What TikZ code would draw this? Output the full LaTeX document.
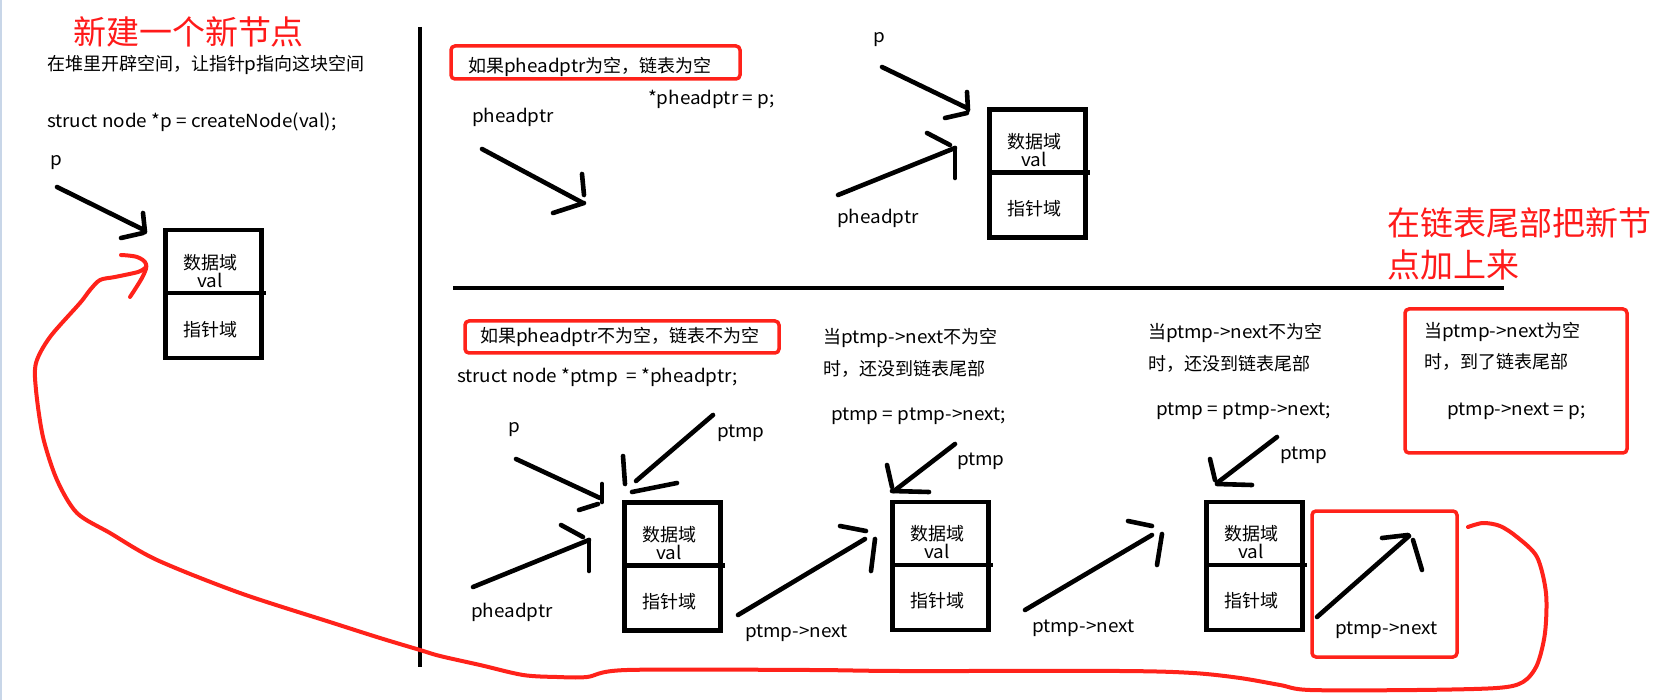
\documentclass[tikz,border=0pt]{standalone}
\usepackage{fontspec}
\setmainfont{Noto Sans CJK SC}[FakeStretch=1.05]
\newfontfamily\cjk{Noto Sans CJK SC}
\usetikzlibrary{calc}
\definecolor{inkred}{RGB}{255,34,26}
\definecolor{titlered}{RGB}{255,26,26}
\definecolor{edgeblue}{RGB}{200,214,232}
\tikzset{
  txt/.style={anchor=base west, inner sep=0, outer sep=0, font=\fontsize{18}{20}\selectfont},
  bigred/.style={anchor=base west, inner sep=0, outer sep=0, text=titlered, font=\cjk\fontsize{33}{36}\selectfont},
  topcell/.style={draw, line width=4.5pt, minimum width=96pt, minimum height=63pt, inner sep=0, outer sep=0, anchor=north west},
  botcell/.style={draw, line width=4.5pt, minimum width=96pt, minimum height=65pt, inner sep=0, outer sep=0, anchor=north west},
  celltext/.style={anchor=base, inner sep=0, outer sep=0, font=\fontsize{18}{20}\selectfont},
  hand/.style={line width=4.6pt, line cap=round, line join=round},
  redframe/.style={draw=inkred, line width=3.5pt, rounded corners=4pt},
  redcurve/.style={draw=inkred, line width=4pt, line cap=round, line join=round},
}
\newcommand\drawcellbox[2]{%
  \node[topcell] (#1t) at (#2) {};
  \node[botcell] (#1b) at (#1t.south west) {};
  \draw[line width=4.5pt] (#1t.south east) -- ++(5,0);
  \node[celltext] (#1d) at ($(#1t.north)+(-3,39)$) {\cjk 数据域};
  \node[celltext] (#1v) at ($(#1t.north)+(-3,57)$) {val};
  \node[celltext] (#1p) at ($(#1t.north)+(-3,106)$) {\cjk 指针域};
}
\newcommand\handarrow[6]{%
  \draw[hand] (#1) -- (#2);
  \draw[hand] (#3) -- (#4);
  \draw[hand] (#5) -- (#6);
}
\begin{document}
\begin{tikzpicture}[x=1pt,y=-1pt]
\useasboundingbox (0,0) rectangle (1658,700);
\fill[white] (0,0) rectangle (1658,700);
\draw[edgeblue, line width=1.5pt] (0.75,0) -- (0.75,700);

% separators
\draw[line width=3.5pt] (420,27) -- (420,667);
\draw[line width=4.5pt] (453,288) -- (1504,288);

% ---------- left section ----------
\node[bigred] (title1) at (73,45) {新建一个新节点};
\node[txt] (heap) at (47,71) {{\cjk 在堆里开辟空间，让指针}p{\cjk 指向这块空间}};
\node[txt] (create) at (47,128) {struct node *p = createNode(val);};
\node[txt] (pA) at (50,166) {p};
\drawcellbox{b1}{165.25,230.25}
\handarrow{57,187}{144,230}{143,213}{145,232}{121,238}{143,233}

% ---------- top right: empty list ----------
\draw[redframe] (451,46) rectangle (740,79);
\node[txt] (emptycond) at (468,73) {{\cjk 如果}pheadptr{\cjk 为空，链表为空}};
\node[txt] (assign) at (648,105) {*pheadptr = p;};
\node[txt] (hpA) at (472,123) {pheadptr};
\handarrow{482,149}{583,203}{582,174}{584,195}{553,213}{584,203}
\node[txt] (pB) at (873,43) {p};
\node[txt] (hpB) at (837,224) {pheadptr};
\drawcellbox{b2}{989.25,109.5}
\handarrow{882,67}{967,108}{967,92}{968,110}{945,118}{967,113}
\handarrow{838,195}{955,148}{955,148}{955,178}{927,133}{950,145}

% ---------- bottom: non-empty list ----------
\draw[redframe] (465,321) rectangle (779,353);
\node[txt] (fullcond) at (480,343) {{\cjk 如果}pheadptr{\cjk 不为空，链表不为空}};
\node[txt] (ptmpdecl) at (457,383) {struct node *ptmp~~= *pheadptr;};
\node[txt] (pC) at (508,433) {p};
\node[txt] (ptmpA) at (717,438) {ptmp};
\node[txt] (hpC) at (471,617) {pheadptr};
\drawcellbox{b3}{624.25,502.25}
\handarrow{516,459}{600,498}{602,484}{602,502}{579,510}{598,504}
\handarrow{713,415}{636,481}{623,456}{625,484}{632,492}{677,483}
\handarrow{473,587}{589,540}{589,540}{589,571}{561,525}{583,537}

\node[txt] (nextA) at (745,637) {ptmp->next};
\handarrow{738,615}{865,539}{840,526}{866,531}{875,539}{871,571}

\node[txt] (condA1) at (823,344) {{\cjk 当}ptmp->next{\cjk 不为空}};
\node[txt] (condA2) at (823,376) {{\cjk 时，还没到链表尾部}};
\node[txt] (stepA) at (831,421) {ptmp = ptmp->next;};
\node[txt] (ptmpB) at (957,466) {ptmp};
\drawcellbox{b4}{892.25,501.75}
\handarrow{955,444}{894,491}{887,465}{892,487}{892,491}{929,492}

\node[txt] (nextB) at (1032,632) {ptmp->next};
\handarrow{1025,610}{1152,535}{1128,521}{1152,526}{1162,534}{1157,565}

\node[txt] (condB1) at (1148,339) {{\cjk 当}ptmp->next{\cjk 不为空}};
\node[txt] (condB2) at (1148,371) {{\cjk 时，还没到链表尾部}};
\node[txt] (stepB) at (1156,416) {ptmp = ptmp->next;};
\node[txt] (ptmpC) at (1280,460) {ptmp};
\drawcellbox{b5}{1206.25,501.75}
\handarrow{1277,437}{1217,483}{1210,459}{1215,480}{1217,484}{1252,485}

% tail frame
\draw[redframe] (1312,511) rectangle (1457,657);
\node[txt] (nextC) at (1335,634) {ptmp->next};
\handarrow{1317,617}{1409,536}{1382,538}{1408,535}{1413,540}{1422,570}

% end condition frame
\draw[redframe] (1405,309) rectangle (1627,453);
\node[txt] (endA) at (1424,338) {{\cjk 当}ptmp->next{\cjk 为空}};
\node[txt] (endB) at (1424,369) {{\cjk 时，到了链表尾部}};
\node[txt] (link) at (1447,416) {ptmp->next = p;};

\node[bigred] (title2a) at (1387,236) {在链表尾部把新节};
\node[bigred] (title2b) at (1387,278) {点加上来};

% red return curve
\draw[redcurve] plot[smooth, tension=0.5] coordinates {
 (1468,527) (1483,523) (1500,526) (1517,537) (1537,557) (1546,593) (1545,633)
 (1537,665) (1523,682) (1497,688) (1417,690) (1310,690) (1280,685) (1240,678)
 (1193,673) (1120,671) (900,671) (810,670) (627,670) (587,677) (557,677)
 (523,675) (480,665) (440,656) (420,650) (380,638) (333,623) (240,593)
 (157,560) (110,533) (77,513) (57,480) (43,437) (36,390) (36,363) (50,337)
 (80,303) (90,290) (100,280) (115,277) (138,272) (145,268)};
\draw[redcurve] plot[smooth, tension=0.6] coordinates {
 (121,255) (137,257) (146,264) (143,276) (130,297)};
\end{tikzpicture}
\end{document}
